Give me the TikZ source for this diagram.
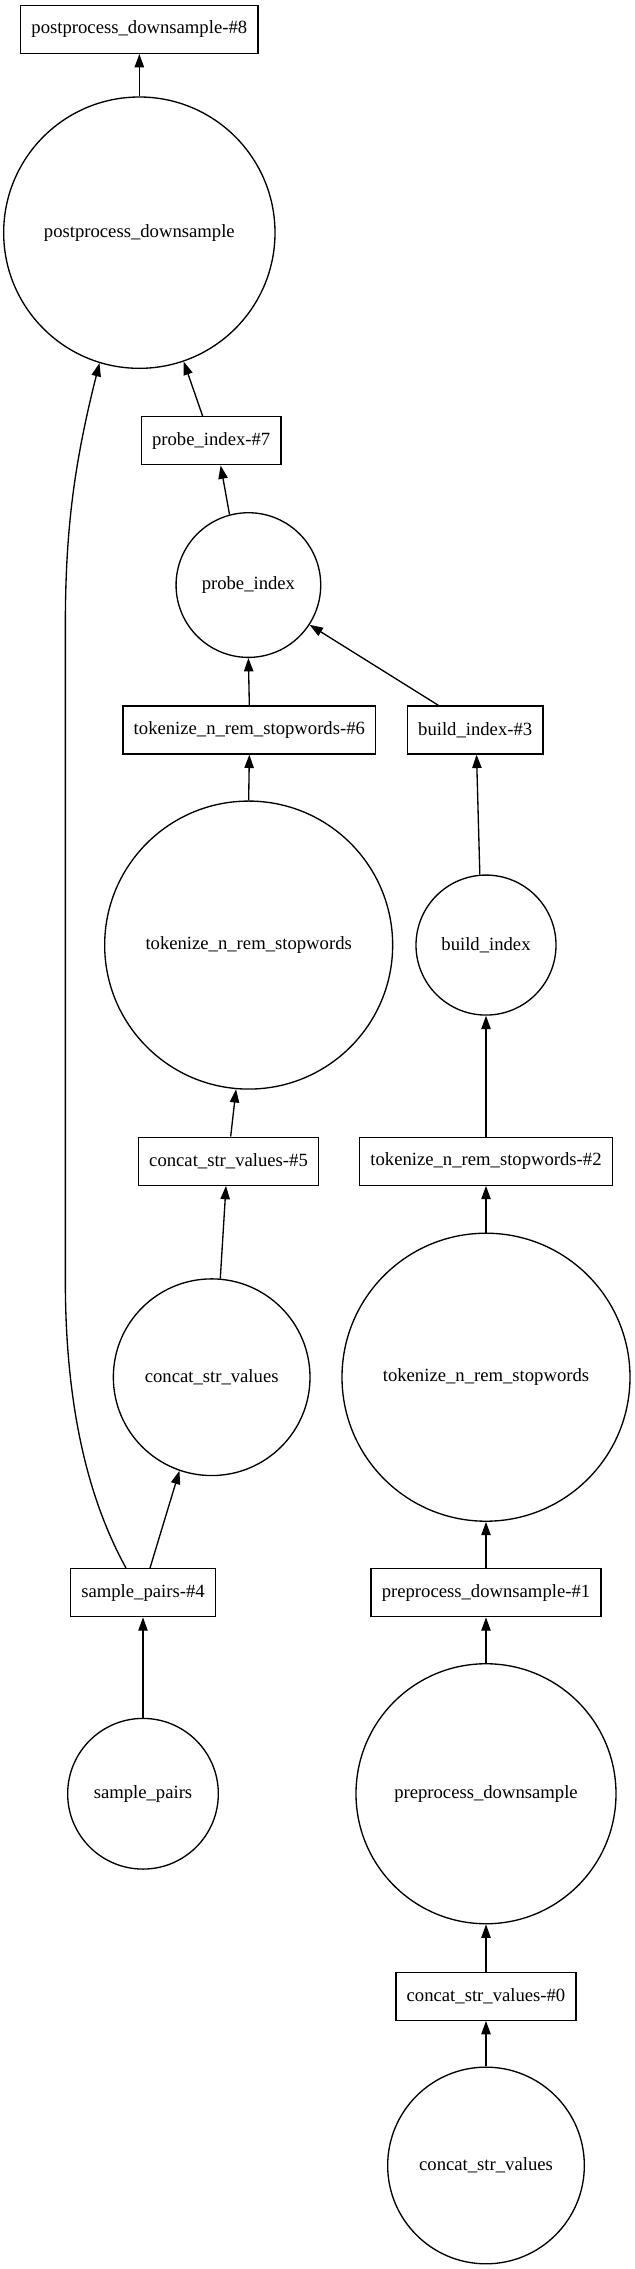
\documentclass[tikz,border=0pt]{standalone}
\usepackage{fontspec}
\setmainfont{Liberation Serif}
\usepackage{tikz}
\usetikzlibrary{arrows.meta}
\tikzstyle{taskbox} = [draw=black, rectangle, line width=1pt, inner xsep=8pt,
    minimum height=36pt, font=\fontsize{14}{16}\selectfont]
\tikzstyle{funcnode} = [draw=black, circle, line width=1pt, inner sep=0pt,
    font=\fontsize{14}{16}\selectfont]
\tikzstyle{dep} = [line width=1pt, -{Triangle[length=10pt, width=7pt]}]

\begin{document}
\begin{tikzpicture}[x=1pt, y=-1pt]
                \useasboundingbox (0,0) rectangle (476.25,1701.75);
                \node [taskbox] (post8) at (104.5,22) {postprocess\_downsample-\#8};
                \node [funcnode, minimum size=203.5pt] (post) at (104.5,174.5) {postprocess\_downsample};
                \node [taskbox] (probe7) at (158.4,330.6) {probe\_index-\#7};
                \node [funcnode, minimum size=108.5pt] (probe) at (186.3,438.8) {probe\_index};
                \node [taskbox] (tok6) at (187,547.5) {tokenize\_n\_rem\_stopwords-\#6};
                \node [taskbox] (build3) at (356.4,547.5) {build\_index-\#3};
                \node [funcnode, minimum size=216pt] (tokL) at (186.5,708.8) {tokenize\_n\_rem\_stopwords};
                \node [funcnode, minimum size=105pt] (build) at (364.5,708.8) {build\_index};
                \node [taskbox] (concat5) at (171.4,870.9) {concat\_str\_values-\#5};
                \node [taskbox] (tok2) at (364.5,870.9) {tokenize\_n\_rem\_stopwords-\#2};
                \node [funcnode, minimum size=147.5pt] (concatL) at (158.75,1032.9) {concat\_str\_values};
                \node [funcnode, minimum size=216pt] (tokR) at (364.5,1032.9) {tokenize\_n\_rem\_stopwords};
                \node [taskbox] (sample4) at (107.25,1194.5) {sample\_pairs-\#4};
                \node [taskbox] (pre1) at (364.5,1194.5) {preprocess\_downsample-\#1};
                \node [funcnode, minimum size=113pt] (sample) at (107.25,1345.3) {sample\_pairs};
                \node [funcnode, minimum size=195pt] (pre) at (364.5,1345.3) {preprocess\_downsample};
                \node [taskbox] (concat0) at (364.5,1497.2) {concat\_str\_values-\#0};
                \node [funcnode, minimum size=147.5pt] (concatB) at (364.5,1624.1) {concat\_str\_values};

                \draw [dep] (post.north) -- (post8.south);
                \draw [dep] ([xshift=-6.4pt]probe7.north) -- (post.-71);
                \draw [dep] (probe.105) -- ([xshift=7.1pt]probe7.south);
                \draw [dep] (tok6.north) -- (probe.south);
                \draw [dep] ([xshift=-27.6pt]build3.north) -- (probe.-33.6);
                \draw [dep] (tokL.north) -- (tok6.south);
                \draw [dep] (build.95) -- ([xshift=1pt]build3.south);
                \draw [dep] ([xshift=1.6pt]concat5.north) -- (tokL.-95.7);
                \draw [dep] (tok2.north) -- (build.south);
                \draw [dep] (concatL.85.5) -- ([xshift=-1.9pt]concat5.south);
                \draw [dep] (tokR.north) -- (tok2.south);
                \draw [dep] ([xshift=5.25pt]sample4.north) -- (concatL.-109);
                \draw [dep] ([xshift=-12.75pt]sample4.north) .. controls (72,1135) and (49,1070) .. (49,960)
                    -- (49,470) .. controls (49,400) and (55,350) .. (post.-107);
                \draw [dep] (pre1.north) -- (tokR.south);
                \draw [dep] (sample.north) -- (sample4.south);
                \draw [dep] (pre.north) -- (pre1.south);
                \draw [dep] (concat0.north) -- (pre.south);
                \draw [dep] (concatB.north) -- (concat0.south);
            \end{tikzpicture}
\end{document}
